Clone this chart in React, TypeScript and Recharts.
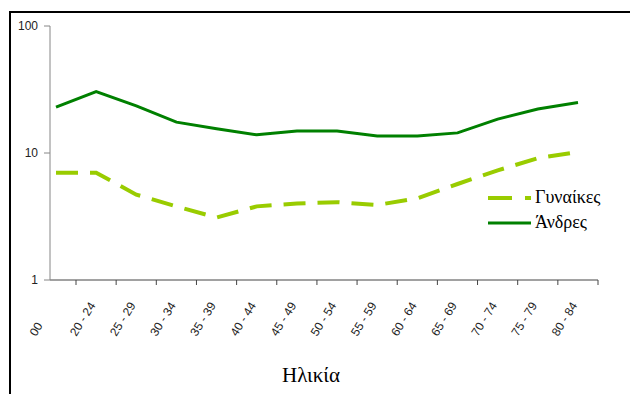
import { LineChart, Line, XAxis, YAxis, Label } from 'recharts';

const ageGroups = [
  '00', '20 - 24', '25 - 29', '30 - 34', '35 - 39', '40 - 44', '45 - 49',
  '50 - 54', '55 - 59', '60 - 64', '65 - 69', '70 - 74', '75 - 79', '80 - 84',
];
const women = [7.0, 7.0, 4.7, 3.8, 3.1, 3.8, 4.0, 4.1, 3.9, 4.4, 5.7, 7.3, 9.1, 10.2];
const men = [23, 30.5, 23.5, 17.5, 15.5, 13.9, 14.9, 14.9, 13.6, 13.6, 14.4, 18.5, 22.2, 25];
const yTicks = [1, 10, 100];

const data = ageGroups.map((age, i) => ({ age, women: women[i], men: men[i] }));

const WOMEN_COLOR = '#99cc00';
const MEN_COLOR = '#008000';
const SERIF = '"Liberation Serif", "DejaVu Serif", serif';
const SANS = '"Liberation Sans", Arial, sans-serif';

function AgeTick(props: any) {
  const { x, y, payload } = props;
  const half = 20;
  const tx = x - 20;
  const ty = y + 52;
  return (
    <g>
      <line x1={x + half} y1={y - 5} x2={x + half} y2={y} stroke="#444" />
      <text
        x={tx}
        y={ty}
        transform={`rotate(-58, ${tx}, ${ty})`}
        textAnchor="start"
        fontSize={12}
        fontFamily={SANS}
        fill="#222"
      >
        {payload.value}
      </text>
    </g>
  );
}

function LegendBox() {
  const rows = [
    { name: 'Γυναίκες', color: WOMEN_COLOR, dash: '24 13' },
    { name: 'Άνδρες', color: MEN_COLOR, dash: undefined },
  ];
  return (
    <div style={{ position: 'absolute', left: 486, top: 185 }}>
      {rows.map((r) => (
        <div key={r.name} style={{ display: 'flex', alignItems: 'center', height: 25 }}>
          <svg width={46} height={10}>
            <line x1={2} y1={5} x2={45} y2={5} stroke={r.color} strokeWidth={r.dash ? 4 : 3} strokeDasharray={r.dash} />
          </svg>
          <span style={{ fontFamily: SERIF, fontSize: 18, color: '#000', marginLeft: 3 }}>{r.name}</span>
        </div>
      ))}
    </div>
  );
}

export default function App() {
  return (
    <div style={{ position: 'absolute', left: 0, top: 0, width: 630, height: 394, overflow: 'hidden', background: '#fff' }}>
      <div
        style={{
          position: 'absolute', left: 9, top: 11, width: 700, height: 500,
          borderTop: '2px solid #000', borderLeft: '2px solid #000',
        }}
      />
      <div style={{ position: 'absolute', left: 0, top: 0 }}>
        <LineChart width={630} height={394} data={data} margin={{ top: 26, right: 32, left: 0, bottom: 0 }}>
          <XAxis
            dataKey="age"
            stroke="#444"
            tickLine={false}
            tickSize={5}
            tickMargin={0}
            height={114}
            padding={{ left: 6, right: 20 }}
            interval={0}
            tick={<AgeTick />}
          >
            <Label
              content={() => (
                <text x={311} y={382} textAnchor="middle" fontFamily={SERIF} fontSize={21} fill="#000">
                  Ηλικία
                </text>
              )}
            />
          </XAxis>
          <YAxis
            scale="log"
            domain={[1, 100]}
            ticks={yTicks}
            width={50}
            stroke="#868686"
            tickSize={6}
            tickMargin={6}
            allowDataOverflow
            tick={{ fontSize: 12, fontFamily: SANS, fill: '#222' }}
          />
          <Line
            dataKey="women"
            name="Γυναίκες"
            stroke={WOMEN_COLOR}
            strokeWidth={4}
            strokeDasharray="22 12"
            dot={false}
            isAnimationActive={false}
          />
          <Line
            dataKey="men"
            name="Άνδρες"
            stroke={MEN_COLOR}
            strokeWidth={3}
            dot={false}
            isAnimationActive={false}
          />
        </LineChart>
      </div>
      <LegendBox />
    </div>
  );
}
